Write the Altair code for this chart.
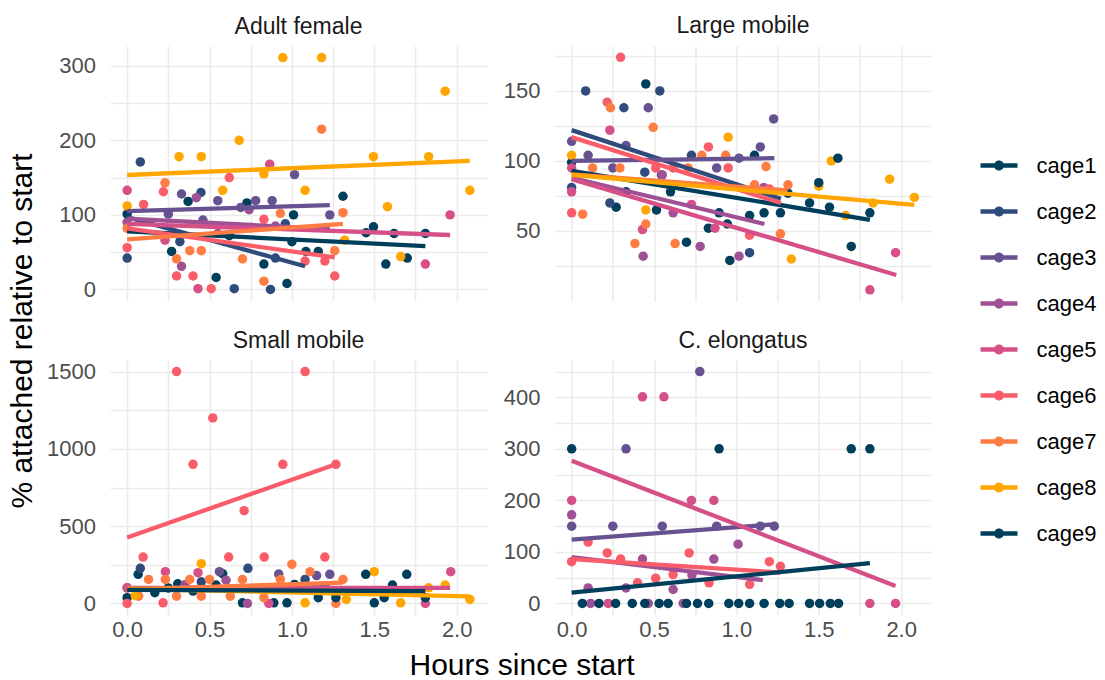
import altair as alt
import pandas as pd

FONT = "Liberation Sans"
cages = ["cage1", "cage2", "cage3", "cage4", "cage5", "cage6", "cage7", "cage8", "cage9"]
palette = ["#003f5c", "#2f4b7c", "#665191", "#a05195", "#d45087",
           "#f95d6a", "#ff7c43", "#ffa600", "#003f5c"]

x_grid = [0, 0.25, 0.5, 0.75, 1.0, 1.25, 1.5, 1.75, 2.0]

# ---------------- Adult female (hours / values per cage1..cage9)
af_h = [
    [0, 0.37, 0.727, 1.01, 0.27, 0.54, 0.83, 0.97, 1.31, 1.085, 1.16, 1.495, 1.45, 1.62, 1.81, 1.57, 1.70],
    [0.08, 0.448, 0, 0.32, 0.65, 0.87, 0.96, 0.90],
    [0.33, 0.55, 0.78, 0.88, 0.69, 1.016, 1.23, 0.25, 0.46],
    [0.42, 0.33, 0.74, 0, 0.55, 0.9],
    [0, 0.865, 1.96, 1.81, 0.43, 0.23],
    [0.62, 0.22, 0.1, 0, 0.30, 0.40, 0.51, 0.83, 1.26, 1.2, 1.08],
    [0.23, 1.18, 0.93, 1.31, 0.38, 0.45, 0.30, 0.70, 0.83, 1.26, 0],
    [0.945, 1.18, 1.93, 0.68, 0.315, 0.45, 1.495, 1.83, 0.83, 2.08, 1.08, 0.58, 1.58, 0, 1.66, 1.32],
    [0.62, 1.0],
]
af_v = [
    [101, 118, 116, 100, 51, 16, 34, 8, 125, 51, 51, 84, 76, 75, 75, 34, 42],
    [171, 130, 42, 64, 1, 0, 88, 42],
    [128, 119, 119, 119, 110, 154, 100, 101, 93],
    [123, 31, 107, 90, 75, 85],
    [133, 168, 100, 34, 1, 66],
    [150, 131, 114, 56, 18, 18, 1, 94, 18, 38, 38],
    [143, 215, 102, 103, 52, 52, 41, 41, 11, 52, 82],
    [311, 311, 266, 200, 178, 178, 178, 178, 155, 133, 133, 133, 111, 112, 44, 66],
    [72, 64],
]
# fitted lines: cage, start hour, start value, end hour, end value
af_fit = [(1, 0, 78, 1.81, 58), (2, 0, 97, 1.08, 31), (3, 0, 105, 1.23, 113),
          (4, 0, 95, 1.23, 81), (5, 0, 88, 1.96, 73), (6, 0, 82, 1.26, 43),
          (7, 0, 67, 1.31, 88), (8, 0, 153.5, 2.08, 172.5)]

# ---------------- Large mobile
lm_h = [
    [0.45, 0, 1.11, 0.27, 0.515, 0.697, 0.83, 0.895, 0.945, 0.96, 1.08, 1.168, 1.267, 1.313, 0.33, 0.6],
    [0.085, 0.535, 0.317, 0.727, 0.444, 0.545, 0, 0.232, 1.08],
    [1.226, 0, 0.1, 1.145, 1.016, 0.88, 0.465, 0.25, 0.33],
    [0.434, 1.016, 0.616, 1.166, 0.78, 0.55],
    [0.232, 0, 0, 0.43, 0.727, 0.87, 1.81, 1.966],
    [0.297, 0.216, 0.83, 0.51, 0.616, 0.95, 0, 1.08, 1.2],
    [0.236, 0.495, 0.127, 0.293, 0.79, 0.935, 0.707, 1.18, 0.067, 0.45, 0.384, 0.628, 1.11, 1.267, 1.313],
    [0.95, 0, 0.45, 1.333, 1.5, 1.576, 1.663, 1.83, 1.93, 2.08],
    [1.444, 1.5, 1.565, 1.616, 1.697, 1.81],
]
lm_v = [
    [155, 99, 104, 67, 65, 42, 52, 63, 55, 29, 61, 63, 63, 77, 78, 78],
    [150, 150, 138, 104, 92, 90, 81, 70, 34.5],
    [130, 114, 104, 110, 102, 95, 138, 95, 111],
    [32, 32, 63, 81, 39, 90],
    [122, 95, 78, 51, 69, 52, 8, 34.5],
    [174, 142, 110, 95, 95, 95, 63, 47, 80],
    [138, 124, 95, 95, 104, 104, 95, 96, 62, 55, 41, 41, 83, 48, 83],
    [117, 104, 65, 30, 82, 100, 61, 70, 87, 74],
    [70, 84.5, 67, 102, 39, 63],
]
lm_fit = [(1, 0, 93, 1.81, 58), (2, 0, 122, 1.27, 73), (3, 0, 100, 1.23, 102),
          (4, 0, 88, 1.17, 55), (5, 0, 87, 1.97, 18.6), (6, 0, 117, 1.27, 70),
          (7, 0, 90.5, 1.31, 79), (8, 0, 90, 2.08, 68.6)]

# ---------------- Small mobile
sm_h = [
    [0.067, 0.58, 0, 0.7, 0.89, 0.97, 0.168, 1.016, 0.54, 0.307, 0.25, 0.4],
    [0.08, 0.733, 1.08, 0.45],
    [0.56, 1.23, 1.15, 0.92],
    [0.6, 0, 0.73, 0.35],
    [0.232, 0.43, 1.964, 1.81, 0.86, 0],
    [0.3, 1.08, 0.52, 0.4, 0.945, 1.267, 0.71, 0.097, 0.616, 0.832, 1.2, 0, 0.218],
    [1.0, 1.11, 0.13, 0.232, 0.38, 0.5, 0.7, 0.93, 1.31, 0.07, 0.3, 0.45, 0.626, 0.83, 1.267],
    [0.45, 1.5, 1.08, 1.66, 2.08, 1.33, 1.83, 1.93, 0.05],
    [1.448, 1.697, 1.61, 1.5, 1.81, 1.56, 1.16, 1.267],
]
sm_v = [
    [188, 192, 37, 4, 4, 4, 69, 123, 119, 127, 100, 80],
    [227, 227, 155, 140],
    [205, 188, 180, 190],
    [150, 101, 0, 120],
    [205, 199, 205, 0, 0, 101],
    [1500, 1500, 1200, 900, 900, 900, 600, 300, 300, 300, 300, 0, 4],
    [253, 205, 155, 155, 155, 155, 155, 155, 155, 47, 47, 47, 47, 37, 0],
    [257, 205, 4, 4, 26, 26, 101, 119, 50],
    [188, 188, 119, 4, 37, 37, 37, 37],
]
sm_fit = [(2, 0, 95, 1.08, 110), (3, 0, 92, 1.23, 115), (4, 0, 95, 0.73, 95),
          (5, 0, 100, 1.96, 100), (6, 0, 426, 1.267, 901), (7, 0, 90, 1.31, 134),
          (8, 0, 95, 2.08, 45), (9, 0, 88, 1.81, 80)]

# ---------------- C. elongatus
ce_h = [
    [],
    [],
    [0.778, 0.33, 0, 0.25, 0.55, 0.88, 1.145, 1.23],
    [0, 1.01, 0.43, 0.863, 0.1, 0.33, 0.616, 0.115, 0.465, 0.677, 0.73],
    [0.43, 0.56, 0, 0.727, 0.863, 1.81, 1.966, 0.222],
    [0.1, 0.216, 0.297, 0.713, 0, 1.2, 1.267, 0.4, 0.51, 0.616, 0.834, 1.08],
    [],
    [],
    [0, 0.895, 1.697, 1.81, 0.065, 0.166, 0.267, 0.368, 0.444, 0.531, 0.586, 0.697,
     0.764, 0.832, 0.954, 1.014, 1.08, 1.168, 1.263, 1.32, 1.444, 1.505, 1.57, 1.62],
]
ce_v = [
    [],
    [],
    [450, 300, 150, 150, 150, 150, 150, 150],
    [172, 115, 86, 86, 30, 30, 27, 0, 0, 0, 55],
    [401, 401, 200, 200, 200, 0, 0, 0],
    [119, 98, 86, 98, 81, 81, 72, 40, 49, 56, 40, 37],
    [],
    [],
    [300, 300, 300, 300, 0, 0, 0, 0, 0, 0, 0, 0, 0, 0, 0, 0, 0, 0, 0, 0, 0, 0, 0, 0],
]
ce_fit = [(3, 0, 124, 1.23, 153.5), (4, 0, 90, 1.16, 45), (5, 0, 277, 1.966, 34),
          (6, 0, 86, 1.267, 60), (9, 0, 21, 1.81, 78)]


def points_df(hs, vs):
    rows = []
    for i, (hh, vv) in enumerate(zip(hs, vs)):
        for a, b in zip(hh, vv):
            rows.append({"hour": a, "value": b, "cage": cages[i]})
    return pd.DataFrame(rows)


def fit_df(fits):
    rows = []
    for c, h0, v0, h1, v1 in fits:
        rows.append({"hour": h0, "value": v0, "cage": f"cage{c}"})
        rows.append({"hour": h1, "value": v1, "cage": f"cage{c}"})
    return pd.DataFrame(rows)


LEGEND_SYMBOL = ("M-1,-0.12L1,-0.12L1,0.12L-1,0.12Z"
                 "M0.27,0A0.27,0.27 0 1,1 -0.27,0A0.27,0.27 0 1,1 0.27,0Z")

color_scale = alt.Scale(domain=cages, range=palette)
AXIS_TITLE_SIZE = 30


def panel(title, hs, vs, fits, ydom, yvals, ymod, bottom, legend=False,
          ytitle=False, xtitle=False):
    x_axis_kw = dict(values=x_grid, grid=True, ticks=False, tickSize=0, domain=False,
                     labels=bottom, labelFlush=False, labelOverlap=False,
                     labelExpr="(datum.value * 2) % 1 == 0 ? format(datum.value, '.1f') : ''",
                     labelFontSize=22, labelFont=FONT, labelColor="#4D4D4D", labelPadding=4,
                     gridColor="#EBEBEB", gridWidth=1.6)
    if xtitle:
        x_axis_kw.update(title="Hours since start", titleX=411.5, titleY=50,
                         titleAlign="center", titleBaseline="middle",
                         titleFontSize=AXIS_TITLE_SIZE, titleFont=FONT, titleFontWeight="normal",
                         titleColor="#000000")
    else:
        x_axis_kw.update(title=None)
    y_axis_kw = dict(values=yvals, grid=True, ticks=False, tickSize=0, domain=False,
                     labelExpr=f"datum.value % {ymod} == 0 ? format(datum.value, 'd') : ''",
                     labelOverlap=False, labelFlush=False,
                     labelFontSize=22, labelFont=FONT, labelColor="#4D4D4D", labelPadding=14.5,
                     gridColor="#EBEBEB", gridWidth=1.6)
    if ytitle:
        y_axis_kw.update(title="% attached relative to start", titleX=-87.5, titleY=284.5,
                         titleAngle=270, titleAlign="center", titleBaseline="middle",
                         titleFontSize=AXIS_TITLE_SIZE, titleFont=FONT, titleFontWeight="normal",
                         titleColor="#000000")
    else:
        y_axis_kw.update(title=None)

    x_enc = alt.X("hour:Q", scale=alt.Scale(domain=[-0.104, 2.184], nice=False, zero=False),
                  axis=alt.Axis(**x_axis_kw))
    y_enc = alt.Y("value:Q", scale=alt.Scale(domain=ydom, nice=False, zero=False),
                  axis=alt.Axis(**y_axis_kw))
    if legend:
        leg = alt.Legend(title=None, orient="none", legendX=870.5, legendY=101,
                         symbolType=LEGEND_SYMBOL, symbolSize=1369, symbolStrokeWidth=0,
                         symbolOpacity=1, labelFontSize=22, labelFont=FONT,
                         labelColor="#000000", labelOffset=19, rowPadding=16, padding=0)
    else:
        leg = None
    pts = alt.Chart(points_df(hs, vs)).mark_circle(size=90, opacity=1).encode(
        x=x_enc, y=y_enc, color=alt.Color("cage:N", scale=color_scale, legend=leg))
    lines = alt.Chart(fit_df(fits)).mark_line(strokeWidth=4.3, strokeCap="butt").encode(
        x=x_enc, y=y_enc, color=alt.Color("cage:N", scale=color_scale, legend=None))
    return alt.layer(pts, lines).properties(
        width=377, height=255,
        title=alt.TitleParams(text=title, fontSize=23, font=FONT, fontWeight="normal",
                              color="#1A1A1A", anchor="middle", baseline="alphabetic",
                              offset=-11))


af = panel("Adult female", af_h, af_v, af_fit, [-15.55, 326.55],
           [0, 50, 100, 150, 200, 250, 300], 100, False, legend=True, ytitle=True)
lm = panel("Large mobile", lm_h, lm_v, lm_fit, [0, 182.1],
           [25, 50, 75, 100, 125, 150, 175], 50, False)
sm = panel("Small mobile", sm_h, sm_v, sm_fit, [-75, 1575],
           [0, 250, 500, 750, 1000, 1250, 1500], 500, True, xtitle=True)
ce = panel("C. elongatus", ce_h, ce_v, ce_fit, [-22.5, 472.5],
           [0, 50, 100, 150, 200, 250, 300, 350, 400, 450], 100, True)

chart = alt.concat(af, lm, sm, ce, columns=2, spacing={"row": 59, "column": 67.5},
                   bounds="flush").resolve_scale(
    x="independent", y="independent", color="shared"
).properties(
    padding={"left": 7, "top": 14, "right": 5, "bottom": 0},
    background="white",
).configure_view(stroke=None)

chart.save("out.html", embed_options={"renderer": "svg", "actions": False})
